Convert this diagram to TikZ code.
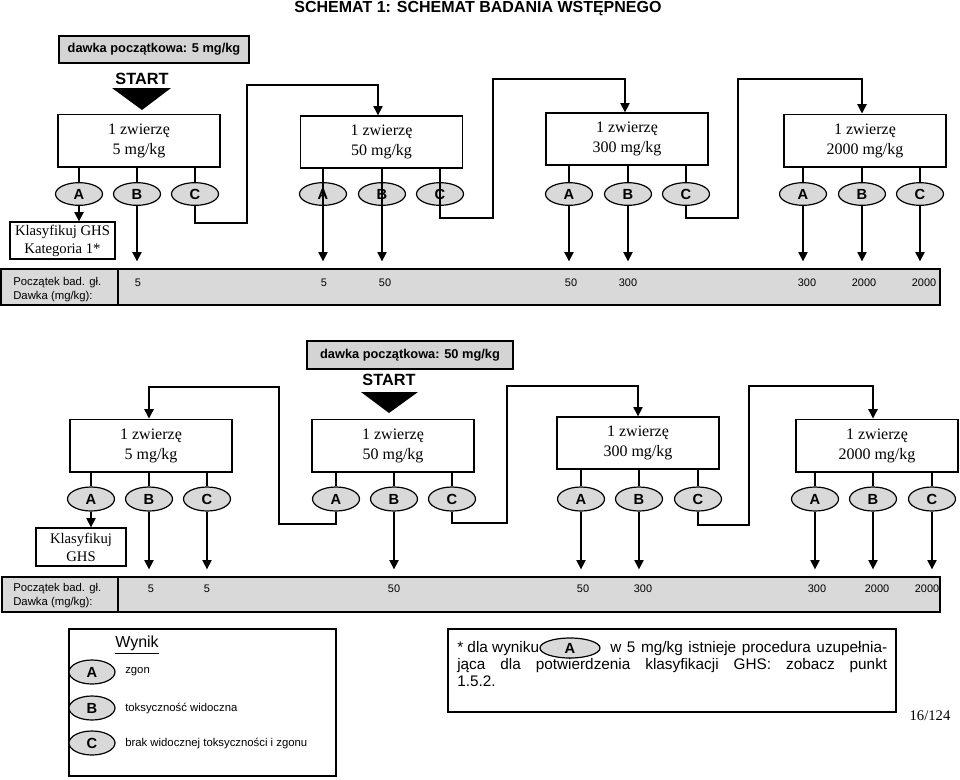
\documentclass[tikz,border=0pt]{standalone}
\usepackage{fontspec}
\setmainfont{Liberation Serif}
\setsansfont{Liberation Sans}
\usetikzlibrary{arrows.meta,shapes.geometric}
\begin{document}
\begin{tikzpicture}[x=0.75pt,y=-0.75pt,
  ln/.style={line width=1pt,black},
  arr/.style={ln,-{Triangle[width=7pt,length=7pt]}},
  tobar/.style={arr,shorten >=5.25pt},
  box/.style={draw,line width=1pt,minimum width=121.5pt,minimum height=39.5pt,inner sep=0pt,align=center,font=\fontsize{12}{15}\selectfont},
  res/.style={ellipse,draw,line width=0.9pt,fill=black!15,minimum width=35.25pt,minimum height=17pt,inner sep=0pt,font=\sffamily\bfseries\fontsize{11}{13}\selectfont},
  dose/.style={draw,line width=1pt,fill=black!17,inner sep=0pt,font=\sffamily\bfseries\fontsize{9.6}{11}\selectfont},
  startlbl/.style={font=\sffamily\bfseries\fontsize{12.2}{14}\selectfont},
  bandcell/.style={draw,line width=1pt,fill=black!15,inner sep=0pt},
  bandlbl/.style={align=left,inner sep=0pt,font=\sffamily\fontsize{8.5}{10.5}\selectfont},
  num/.style={inner sep=0pt,font=\sffamily\fontsize{8.2}{10}\selectfont},
  klas/.style={draw,line width=1pt,inner sep=0pt,align=center,font=\fontsize{11}{13.5}\selectfont},
  leg/.style={anchor=west,inner sep=0pt,font=\sffamily\fontsize{8.5}{10}\selectfont},
  fn/.style={inner sep=0pt,font=\sffamily\fontsize{11.5}{13}\selectfont}
]
\useasboundingbox (0,0) rectangle (960,779);

% ---------- title ----------
\node[font=\sffamily\bfseries\fontsize{12}{14}\selectfont] (title) at (478,8.5) {SCHEMAT 1: SCHEMAT BADANIA WSTĘPNEGO};

% ================= TOP SCHEME =================
\node[dose,minimum width=142.5pt,minimum height=20.25pt] (d1) at (154,49.5) {dawka początkowa: 5 mg/kg};
\node[startlbl] (s1) at (142,79) {START};
\fill (112,88) -- (171,88) -- (142,110) -- cycle;

\node[box] (b1) at (139,140.5) {1 zwierzę\\5 mg/kg};
\node[box,minimum height=39pt] (b2) at (381.5,142) {1 zwierzę\\50 mg/kg};
\node[box,minimum height=39pt] (b3) at (627,139) {1 zwierzę\\300 mg/kg};
\node[box] (b4) at (865,140.5) {1 zwierzę\\2000 mg/kg};

\node[res] (t1A) at (79,194) {A};
\node[res] (t1B) at (137,194) {B};
\node[res] (t1C) at (195,194) {C};
\node[res] (t2A) at (323,194) {A};
\node[res] (t2B) at (382,194) {B};
\node[res] (t2C) at (440,194) {C};
\node[res] (t3A) at (569,194) {A};
\node[res] (t3B) at (628,194) {B};
\node[res] (t3C) at (686,194) {C};
\node[res] (t4A) at (803,194) {A};
\node[res] (t4B) at (862,194) {B};
\node[res] (t4C) at (920,194) {C};

\node[klas,minimum width=78.75pt,minimum height=27.75pt] (k1) at (62.5,240.5) {Klasyfikuj GHS\\Kategoria 1*};

\node[bandcell,minimum width=87.75pt,minimum height=27pt] (L1) at (59.5,287) {};
\node[bandcell,minimum width=616.5pt,minimum height=27pt] (R1) at (529,287) {};
\node[bandlbl,anchor=west] (L1t) at (13,290) {Początek bad. gł.\\Dawka (mg/kg):};

\foreach \x/\v [count=\i] in {138/5,324/5,385/50,571/50,628/300,807/300,864/2000,924/2000}
  \node[num] (tn\i) at (\x,283) {\v};

% box -> result lines
\foreach \g in {1,3,4}{
  \foreach \r in {A,B,C}{
    \draw[ln] (b\g.south -| t\g\r) -- (t\g\r.north);
  }
}
% group 2 lines pass over the ellipses
\draw[tobar] (b2.south -| t2A) -- (t2A |- R1.north);
\draw[tobar] (b2.south -| t2B) -- (t2B |- R1.north);

% result -> band
\draw[tobar] (t1B.south) -- (t1B |- R1.north);
\draw[tobar] (t3A.south) -- (t3A |- R1.north);
\draw[tobar] (t3B.south) -- (t3B |- R1.north);
\draw[tobar] (t4A.south) -- (t4A |- R1.north);
\draw[tobar] (t4B.south) -- (t4B |- R1.north);
\draw[tobar] (t4C.south) -- (t4C |- R1.north);
\draw[arr] (t1A.south) -- (k1.north -| t1A);

% escalation connectors
\coordinate (u1) at (247,223); \coordinate (v1) at (378,85);
\coordinate (u2) at (493,218); \coordinate (v2) at (625,79);
\coordinate (u3) at (738,218); \coordinate (v3) at (862,79);
\draw[arr] (t1C.south) |- (u1) |- (v1) -- (b2.north -| v1);
\draw[arr] (b2.south -| t2C) |- (u2) |- (v2) -- (b3.north -| v2);
\draw[arr] (t3C.south) |- (u3) |- (v3) -- (b4.north -| v3);

% ================= BOTTOM SCHEME =================
\node[dose,minimum width=154.5pt,minimum height=21pt] (d2) at (410,355) {dawka początkowa: 50 mg/kg};
\node[startlbl] (s2) at (389,380) {START};
\fill (361,392) -- (418,392) -- (389,413) -- cycle;

\node[box] (m1) at (151,445.5) {1 zwierzę\\5 mg/kg};
\node[box] (m2) at (393,445.5) {1 zwierzę\\50 mg/kg};
\node[box,minimum height=39pt] (m3) at (638,443) {1 zwierzę\\300 mg/kg};
\node[box] (m4) at (877,445.5) {1 zwierzę\\2000 mg/kg};

\node[res,minimum height=18pt] (n1A) at (91,499) {A};
\node[res,minimum height=18pt] (n1B) at (149,499) {B};
\node[res,minimum height=18pt] (n1C) at (207,499) {C};
\node[res,minimum height=18pt] (n2A) at (336,499) {A};
\node[res,minimum height=18pt] (n2B) at (394,499) {B};
\node[res,minimum height=18pt] (n2C) at (452,499) {C};
\node[res,minimum height=18pt] (n3A) at (581,499) {A};
\node[res,minimum height=18pt] (n3B) at (639,499) {B};
\node[res,minimum height=18pt] (n3C) at (698,499) {C};
\node[res,minimum height=18pt] (n4A) at (815,499) {A};
\node[res,minimum height=18pt] (n4B) at (873,499) {B};
\node[res,minimum height=18pt] (n4C) at (932,499) {C};

\node[klas,minimum width=67.5pt,minimum height=28.5pt] (k2) at (81,547) {Klasyfikuj\\GHS};

\node[bandcell,minimum width=87pt,minimum height=26.25pt] (L2) at (60,594.5) {};
\node[bandcell,minimum width=616.5pt,minimum height=26.25pt] (R2) at (529,594.5) {};
\node[bandlbl,anchor=west] (L2t) at (13,596) {Początek bad. gł.\\Dawka (mg/kg):};

\foreach \x/\v [count=\i] in {151/5,207/5,394/50,583/50,643/300,817/300,877/2000,927/2000}
  \node[num] (bn\i) at (\x,589) {\v};

\foreach \g in {1,2,3,4}{
  \foreach \r in {A,B,C}{
    \draw[ln] (m\g.south -| n\g\r) -- (n\g\r.north);
  }
}
\draw[arr] (n1A.south) -- (k2.north -| n1A);
\draw[tobar] (n1B.south) -- (n1B |- R2.north);
\draw[tobar] (n1C.south) -- (n1C |- R2.north);
\draw[tobar] (n2B.south) -- (n2B |- R2.north);
\draw[tobar] (n3A.south) -- (n3A |- R2.north);
\draw[tobar] (n3B.south) -- (n3B |- R2.north);
\draw[tobar] (n4A.south) -- (n4A |- R2.north);
\draw[tobar] (n4B.south) -- (n4B |- R2.north);
\draw[tobar] (n4C.south) -- (n4C |- R2.north);

\coordinate (w1) at (279,524); \coordinate (z1) at (149,387);
\coordinate (w2) at (507,523); \coordinate (z2) at (638,386);
\coordinate (w3) at (749,525); \coordinate (z3) at (873,386);
\draw[arr] (n2A.south) |- (w1) |- (z1) -- (m1.north -| z1);
\draw[arr] (n2C.south) |- (w2) |- (z2) -- (m3.north -| z2);
\draw[arr] (n3C.south) |- (w3) |- (z3) -- (m4.north -| z3);

% ================= LEGEND =================
\node[draw,line width=1pt,minimum width=200.25pt,minimum height=110.25pt,inner sep=0pt] (legbox) at (202.5,702.5) {};
\node[font=\sffamily\fontsize{12}{14}\selectfont,inner sep=0pt] (wyn) at (137,645) {\underline{Wynik}};
\node[res,minimum width=34.5pt,minimum height=18pt] (lA) at (92,672) {A};
\node[res,minimum width=34.5pt,minimum height=18pt] (lB) at (92,708) {B};
\node[res,minimum width=34.5pt,minimum height=18pt] (lC) at (92,743) {C};
\node[leg] (lAt) at (125,672) {zgon};
\node[leg] (lBt) at (125,708) {toksyczność widoczna};
\node[leg] (lCt) at (125,743) {brak widocznej toksyczności i zgonu};

% ================= FOOTNOTE =================
\node[draw,line width=1pt,minimum width=336pt,minimum height=62.25pt,inner sep=0pt] (fnbox) at (672,670.5) {};
\node[fn,anchor=base west] (f1a) at (457,652) {* dla wyniku};
\node[res,minimum width=45pt,minimum height=15pt] (fA) at (570,648) {A};
\node[fn,anchor=base west] (f1b) at (610,652) {\makebox[207.75pt][s]{w 5 mg/kg istnieje procedura uzupełnia-}};
\node[fn,anchor=base west] (f2) at (457,669) {\makebox[322.5pt][s]{jąca dla potwierdzenia klasyfikacji GHS: zobacz punkt}};
\node[fn,anchor=base west] (f3) at (457,686) {1.5.2.};

\node[font=\fontsize{11}{13}\selectfont,inner sep=0pt] (page) at (930,716) {16/124};
\end{tikzpicture}
\end{document}
